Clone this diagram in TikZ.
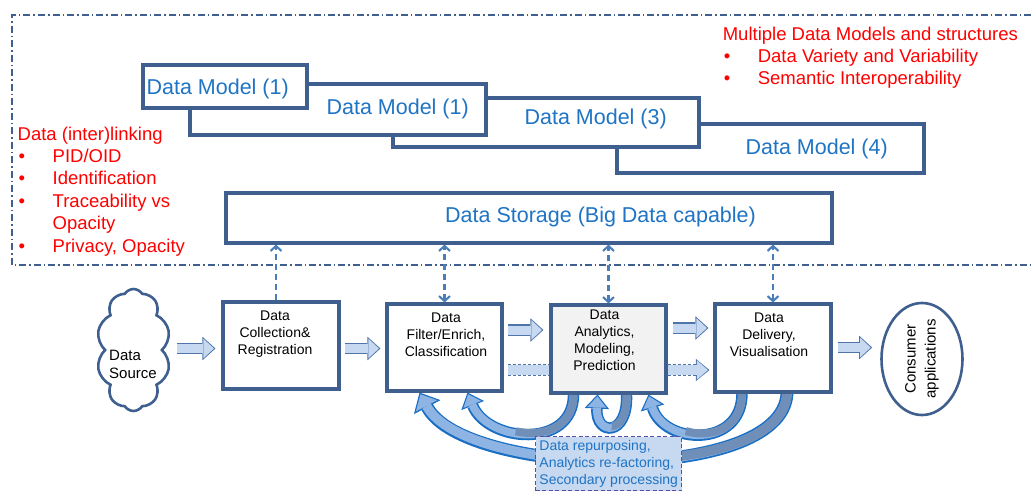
\documentclass[tikz,border=0pt]{standalone}
\usepackage{fontspec}
\setmainfont{Liberation Sans}
\usetikzlibrary{arrows.meta,shapes.geometric,shapes.symbols}

\pgfdeclarelayer{background}
\pgfsetlayers{background,main}

\definecolor{boxline}{HTML}{3F5F8F}
\definecolor{modelblue}{HTML}{1F74C4}
\definecolor{noteRed}{HTML}{FF0000}
\definecolor{blockfill}{HTML}{C6D9F1}
\definecolor{blockline}{HTML}{4F74AA}
\definecolor{loopline}{HTML}{1A6FC4}
\definecolor{loophead}{HTML}{8DB4E2}
\definecolor{looptail}{HTML}{6F8FB8}
\definecolor{linkblue}{HTML}{4A7EBB}
\definecolor{labelline}{HTML}{5A4FA8}
\definecolor{anafill}{HTML}{F2F2F2}

\newcommand{\bul}{\makebox[35pt][l]{\hspace{1pt}\textbullet}}

\tikzset{
  frameline/.style={draw=boxline, line width=2pt, dash pattern=on 7pt off 3pt on 1.5pt off 3pt},
  modelbox/.style={draw=boxline, line width=3.1pt, fill=white, inner sep=0pt},
  modeltext/.style={text=modelblue, font=\fontsize{21.5}{26}\selectfont, inner sep=0pt},
  stepbox/.style={draw=boxline, line width=3.1pt, fill=white, inner sep=0pt},
  steptext/.style={font=\fontsize{14}{17}\selectfont, align=center, inner sep=0pt, anchor=north},
  note/.style={text=noteRed, font=\fontsize{18.5}{22.4}\selectfont, align=left, inner sep=0pt, anchor=north west},
  linkarrow/.style={draw=linkblue, line width=2.1pt, dash pattern=on 6pt off 4pt, >={Straight Barb[length=5pt,width=11pt]}},
  blockarrow/.style={draw=blockfill, line width=9pt, -{Triangle[length=10.5pt,width=19.5pt,line width=0pt]}, shorten >=1.5pt,
    preaction={draw=blockline, line width=11.8pt, shorten >=0pt, -{Triangle[length=13pt,width=23.5pt,line width=0pt]}}},
  dashedblock/.style={draw=blockfill, line width=9.5pt, -{Triangle[length=11pt,width=19pt,line width=0pt]}, shorten >=1.5pt,
    preaction={draw=blockline, line width=12pt, shorten >=0pt, dash pattern=on 3pt off 2pt, -{Triangle[length=13.5pt,width=22pt,line width=0pt]}}},
  feedback/.style={draw=loophead, line width=8pt, -{Triangle[length=11pt,width=19pt,line width=0pt]}, shorten >=1.8pt,
    preaction={draw=loopline, line width=11.4pt, shorten >=0pt, -{Triangle[length=14pt,width=24.5pt,line width=0pt]}}},
  bigfeedback/.style={draw=loophead, line width=9.5pt, -{Triangle[length=13pt,width=24pt,line width=0pt]}, shorten >=2pt,
    preaction={draw=loopline, line width=12.9pt, shorten >=0pt, -{Triangle[length=16.5pt,width=30pt,line width=0pt]}}},
  shadetail/.style={postaction={draw=looptail, arrows=-, shorten >=0pt, dash pattern=on #1 off 3000pt}},
  reusebox/.style={draw=labelline, line width=1.4pt, dash pattern=on 4pt off 2.5pt, fill=blockfill, text=modelblue,
    font=\fontsize{14}{17}\selectfont, align=left, inner xsep=2.5pt, inner ysep=0pt, minimum width=146, minimum height=54}
}

\begin{document}
\begin{tikzpicture}[x=1pt, y=-1pt]
  \useasboundingbox (0,0) rectangle (1031,491);
  % dash-dot frame round the storage layer
  \draw[frameline] (1031,15) -- (12,15) -- (12,265) -- (1031,265);

  % stacked data models, back to front
  \node[modelbox, minimum width=307, minimum height=49] (dm4) at (770.5,148.5) {};
  \node[modeltext, anchor=base west] (dm4t) at (745.4,154.7) {Data Model (4)};
  \node[modelbox, minimum width=306, minimum height=49] (dm3) at (546,122.5) {};
  \node[modeltext, anchor=base west] (dm3t) at (524.4,124.7) {Data Model (3)};
  \node[modelbox, minimum width=296, minimum height=51] (dm1b) at (338,109.5) {};
  \node[modeltext, anchor=base west] (dm1bt) at (326.4,114.7) {Data Model (1)};
  \node[modelbox, minimum width=164, minimum height=43] (dm1a) at (225,86.5) {};
  \node[modeltext, anchor=base west] (dm1at) at (146.4,94.7) {Data Model (1)};

  \node[modelbox, minimum width=606, minimum height=50] (sto) at (529,218) {};
  \node[modeltext, anchor=base] (stot) at (600.5,222.7) {Data Storage (Big Data capable)};

  % red notes
  \node[note] (linking) at (17.5,126.5) {Data (inter)linking\\ \bul PID/OID\\ \bul Identification\\
    \bul Traceability vs\\ \hspace*{35pt}Opacity\\ \bul Privacy, Opacity};
  \node[note] (variety) at (722.6,26.5) {Multiple Data Models and structures\\
    \bul Data Variety and Variability\\ \bul Semantic Interoperability};

  % processing chain
  \node[cloud, cloud puffs=10, cloud puff arc=115, cloud ignores aspect, draw=boxline, line width=2.6pt, fill=white,
    minimum width=74, minimum height=122] (src) at (133.5,350) {};
  \node[font=\fontsize{15}{18}\selectfont, align=left, anchor=north west, inner sep=0pt] (srct) at (109,349.6) {Data\\Source};
  \node[stepbox, minimum width=116, minimum height=87] (coll) at (281,345.5) {};
  \node[steptext] (collt) at (275,311) {Data\\Collection\&\\Registration};
  \node[stepbox, minimum width=115, minimum height=87] (filt) at (444.5,347.5) {};
  \node[steptext] (filtt) at (446,313) {Data\\Filter/Enrich,\\Classification};
  \node[stepbox, fill=anafill, minimum width=115, minimum height=88] (ana) at (608.5,349) {};
  \node[steptext] (anat) at (604.5,310) {Data\\Analytics,\\Modeling,\\Prediction};
  \node[stepbox, minimum width=116, minimum height=88] (deliv) at (773,348) {};
  \node[steptext] (delivt) at (769,313) {Data\\Delivery,\\Visualisation};
  \node[ellipse, draw=boxline, line width=2.6pt, rotate=90, minimum width=111, minimum height=81,
    font=\fontsize{15}{20}\selectfont, align=center, inner sep=0pt] (cons) at (922,359) {Consumer\\applications};

  % links to storage
  \draw[linkarrow, ->] ([xshift=-5]coll.north) -- ([xshift=-5]coll.north |- sto.south);
  \draw[linkarrow, <->] (filt.north) -- (filt.north |- sto.south);
  \draw[linkarrow, <->] (ana.north) -- (ana.north |- sto.south);
  \draw[linkarrow, <->] (deliv.north) -- (deliv.north |- sto.south);

  % flow
  \draw[blockarrow] ([xshift=-44,yshift=-3]coll.west) -- ([xshift=-6,yshift=-3]coll.west);
  \draw[blockarrow] ([xshift=4,yshift=-3]coll.east) -- ([xshift=-5,yshift=-1]filt.west);
  \draw[blockarrow] ([xshift=4,yshift=17.5]filt.east) -- ([xshift=-6,yshift=19]ana.west);
  \draw[blockarrow] ([xshift=5,yshift=21]ana.east) -- ([xshift=-5,yshift=20]deliv.west);
  \draw[blockarrow] ([xshift=5,yshift=0.5]deliv.east) -- ([xshift=-8,yshift=11.5]cons.north);

  % feedback loops
  \begin{pgfonlayer}{background}
    \draw[dashedblock] ([xshift=4,yshift=-22.5]filt.east) -- ([xshift=-4,yshift=-22]deliv.west);
    \draw[bigfeedback, shadetail=150pt] ([xshift=14]deliv.south) .. controls +(-5,92) and +(45,85) .. ([xshift=-25]filt.south);
    \draw[feedback, shadetail=80pt] ([xshift=-35]ana.south) .. controls +(0,55) and +(20,50) .. ([xshift=23]filt.south);
    \draw[feedback, shadetail=38pt] ([xshift=18]ana.south) .. controls +(2,42) and +(-2,42) .. ([xshift=-11]ana.south);
    \draw[feedback, shadetail=80pt] ([xshift=-31]deliv.south) .. controls +(0,55) and +(15,50) .. ([xshift=40]ana.south);
  \end{pgfonlayer}

  \node[reusebox, anchor=north west] (reuse) at (535,436) {Data repurposing,\\Analytics re-factoring,\\Secondary processing};
\end{tikzpicture}
\end{document}
